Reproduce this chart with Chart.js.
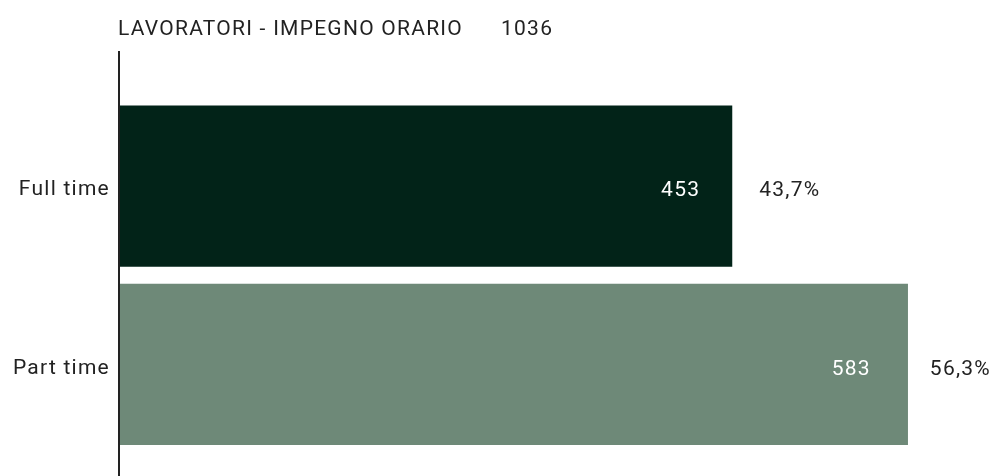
<!DOCTYPE html>
<html>
<head>
<meta charset="utf-8">
<script src="https://cdn.jsdelivr.net/npm/chart.js@4"></script>
<style>
  html, body { margin: 0; padding: 0; background: #fff; }
  #wrap { width: 993px; height: 476px; position: relative; }
</style>
</head>
<body>
<div id="wrap"><canvas id="chart"></canvas></div>
<script>
// chart data
const chartTitle = 'LAVORATORI - IMPEGNO ORARIO';
const categories = ['Full time', 'Part time'];
const workers = [453, 583];
const barColors = ['#022318', '#6e8978'];

const total = workers.reduce((a, b) => a + b, 0);
const FONT = 'Roboto, "DejaVu Sans", sans-serif';
const SPACING = '1.25px';

// wider letter spacing, closer to the DIN-like look of the original
const spacingPlugin = {
    id: 'spacingPlugin',
    beforeUpdate(chart) { chart.ctx.letterSpacing = SPACING; },
    beforeDraw(chart) { chart.ctx.letterSpacing = SPACING; }
};

// title, value labels, percentages and the long axis line
const labelsPlugin = {
    id: 'labelsPlugin',
    afterDatasetsDraw(chart) {
        const ctx = chart.ctx;
        const area = chart.chartArea;
        ctx.save();

        // axis line reaching above and below the bars
        ctx.strokeStyle = '#222';
        ctx.lineWidth = 2;
        ctx.beginPath();
        ctx.moveTo(area.left - 1, area.top - 46);
        ctx.lineTo(area.left - 1, chart.height);
        ctx.stroke();

        // title with total
        ctx.font = '21px ' + FONT;
        ctx.fillStyle = '#222';
        ctx.textBaseline = 'middle';
        ctx.textAlign = 'left';
        ctx.fillText(chartTitle, area.left - 2, 30);
        ctx.fillText(String(total), area.left + 381, 30);

        const meta = chart.getDatasetMeta(0);
        meta.data.forEach((bar, i) => {
            const v = workers[i];
            const pct = (v / total * 100).toFixed(1).replace('.', ',') + '%';
            const w = ctx.measureText(pct).width;
            // keep the percentage inside the canvas
            const px = Math.min(bar.x + 27, chart.width - w - 2);
            ctx.textAlign = 'left';
            ctx.fillStyle = '#222';
            ctx.fillText(pct, px, bar.y + 5);
            ctx.textAlign = 'right';
            ctx.fillStyle = '#ffffff';
            ctx.fillText(String(v), px - 59, bar.y + 5);
        });
        ctx.restore();
    }
};

new Chart(document.getElementById('chart'), {
    type: 'bar',
    data: {
        labels: categories,
        datasets: [{
            data: workers,
            backgroundColor: barColors,
            borderWidth: 0,
            barPercentage: 0.905,
            categoryPercentage: 1
        }]
    },
    options: {
        indexAxis: 'y',
        responsive: true,
        maintainAspectRatio: false,
        animation: false,
        layout: { padding: { top: 97, bottom: 20, left: 0, right: 8 } },
        plugins: {
            legend: { display: false },
            tooltip: { enabled: false }
        },
        scales: {
            x: {
                display: false,
                min: 0,
                max: 640
            },
            y: {
                grid: { display: false, drawTicks: false },
                border: { display: false },
                ticks: {
                    color: '#222',
                    padding: 10,
                    labelOffset: 4,
                    font: { family: FONT, size: 21 }
                },
                afterFit(scale) { scale.width = 120; }
            }
        }
    },
    plugins: [spacingPlugin, labelsPlugin]
});
</script>
</body>
</html>
